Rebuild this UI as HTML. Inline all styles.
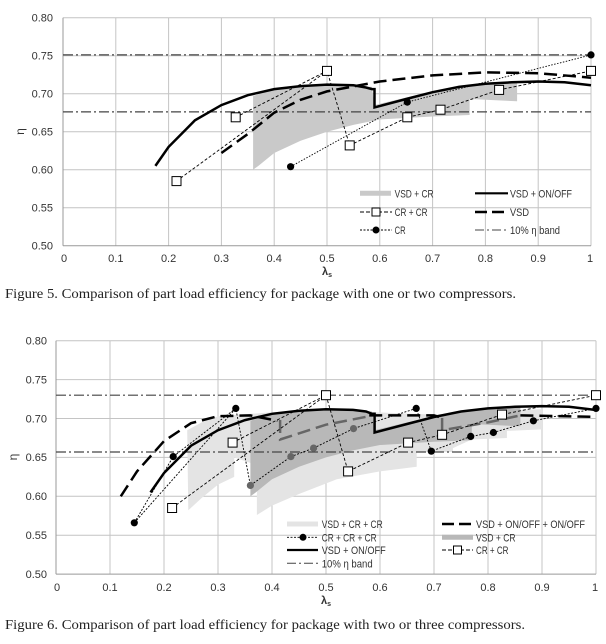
<!DOCTYPE html>
<html><head><meta charset="utf-8"><style>
html,body{margin:0;padding:0;background:#fff;}
svg{display:block;}
text{font-family:"Liberation Sans",sans-serif;fill:#333;}
.cap{font-family:"Liberation Serif",serif;fill:#222;font-size:13.5px;}
.g{stroke:#c4c4c4;stroke-width:1;}
.tk{font-size:11px;}
</style></head><body>
<svg width="606" height="644" viewBox="0 0 606 644" xmlns="http://www.w3.org/2000/svg">
<rect width="606" height="644" fill="#fff"/>
<!-- ============ CHART 1 ============ -->
<g fill="none">
<line class="g" x1="63" y1="17.7" x2="591" y2="17.7"/>
<line class="g" x1="63" y1="55.7" x2="591" y2="55.7"/>
<line class="g" x1="63" y1="93.7" x2="591" y2="93.7"/>
<line class="g" x1="63" y1="131.7" x2="591" y2="131.7"/>
<line class="g" x1="63" y1="169.7" x2="591" y2="169.7"/>
<line class="g" x1="63" y1="207.7" x2="591" y2="207.7"/>
<line class="g" x1="115.8" y1="17.7" x2="115.8" y2="245.7"/>
<line class="g" x1="168.6" y1="17.7" x2="168.6" y2="245.7"/>
<line class="g" x1="221.4" y1="17.7" x2="221.4" y2="245.7"/>
<line class="g" x1="274.2" y1="17.7" x2="274.2" y2="245.7"/>
<line class="g" x1="327" y1="17.7" x2="327" y2="245.7"/>
<line class="g" x1="379.8" y1="17.7" x2="379.8" y2="245.7"/>
<line class="g" x1="432.6" y1="17.7" x2="432.6" y2="245.7"/>
<line class="g" x1="485.4" y1="17.7" x2="485.4" y2="245.7"/>
<line class="g" x1="538.2" y1="17.7" x2="538.2" y2="245.7"/>
<line class="g" x1="591" y1="17.7" x2="591" y2="245.7"/>
<line x1="63" y1="17.7" x2="63" y2="245.7" stroke="#999"/>
<line x1="63" y1="245.7" x2="591" y2="245.7" stroke="#999"/>
</g>
<polygon fill="#c9c9c9" points="253.1,96 274.2,89.1 327,84.6 371.9,86.9 374.5,105.1 406.2,97.5 432.6,91.4 469.6,85.3 517.1,82.3 517.1,101.3 469.6,99 469.6,115 432.6,116.5 379.8,119.5 353.4,124.9 327,131.7 300.6,140.8 274.2,153 258.4,165.9 253.1,169.7"/>
<g fill="none" stroke="#444" stroke-width="1.2" stroke-dasharray="10,3,2,3">
<line x1="63" y1="54.9" x2="591" y2="54.9"/>
<line x1="63" y1="111.9" x2="591" y2="111.9"/>
</g>
<polyline fill="none" stroke="#000" stroke-width="2.5" points="155.4,165.9 168.6,146.9 195,120.3 221.4,105.1 247.8,95.2 274.2,89.1 300.6,86.1 327,84.6 353.4,85.3 366,87.5 371.9,89.1 374.5,89.1 374.5,107.4 406.2,99 432.6,92.2 459,86.9 485.4,83.8 511.8,82.3 538.2,81.5 564.6,82.3 591,85.3"/>
<polyline fill="none" stroke="#000" stroke-width="2.5" stroke-dasharray="13,6" points="221.4,153 247.8,134 274.2,112.7 300.6,99.8 327,91.4 379.8,81.5 432.6,75.4 485.4,72.4 538.2,73.2 591,77.7"/>
<g fill="none" stroke="#000" stroke-width="0.9" stroke-dasharray="3,2">
<line x1="176.5" y1="181.1" x2="327" y2="70.9"/>
<polyline points="235.7,117.3 327,70.9 349.7,145.4 407.3,117.3 440.5,109.7 499.1,89.9 591,70.9"/>
</g>
<polyline fill="none" stroke="#000" stroke-width="0.9" stroke-dasharray="1.5,1.5" points="290.6,166.7 407.3,102.1 591,54.9"/>
<g fill="#fff" stroke="#000" stroke-width="1">
<rect x="172" y="176.6" width="9" height="9"/><rect x="231.2" y="112.8" width="9" height="9"/><rect x="322.5" y="66.4" width="9" height="9"/><rect x="345.2" y="140.9" width="9" height="9"/><rect x="402.8" y="112.8" width="9" height="9"/><rect x="436" y="105.2" width="9" height="9"/><rect x="494.6" y="85.4" width="9" height="9"/><rect x="586.5" y="66.4" width="9" height="9"/>
</g>
<g fill="#000"><circle cx="290.6" cy="166.7" r="3.6"/><circle cx="407.3" cy="102.1" r="3.6"/><circle cx="591" cy="54.9" r="3.6"/></g>
<!-- legend 1 -->
<line x1="360" y1="193.3" x2="391" y2="193.3" stroke="#c9c9c9" stroke-width="5"/>
<text x="394.6" y="197.5" font-size="11" textLength="39" lengthAdjust="spacingAndGlyphs">VSD + CR</text>
<line x1="475" y1="193.3" x2="508" y2="193.3" stroke="#000" stroke-width="2.2"/>
<text x="510" y="197.5" font-size="11" textLength="62" lengthAdjust="spacingAndGlyphs">VSD + ON/OFF</text>
<line x1="360" y1="212" x2="392" y2="212" stroke="#000" stroke-width="0.9" stroke-dasharray="4,2"/>
<rect x="372" y="208" width="8" height="8" fill="#fff" stroke="#000"/>
<text x="394.6" y="216" font-size="11" textLength="33" lengthAdjust="spacingAndGlyphs">CR + CR</text>
<line x1="475" y1="212" x2="508" y2="212" stroke="#000" stroke-width="2.5" stroke-dasharray="12,5"/>
<text x="510" y="216" font-size="11" textLength="19" lengthAdjust="spacingAndGlyphs">VSD</text>
<line x1="360" y1="230" x2="392" y2="230" stroke="#000" stroke-width="0.9" stroke-dasharray="2,1.5"/>
<circle cx="376" cy="230" r="3.5"/>
<text x="394.6" y="234" font-size="11" textLength="11" lengthAdjust="spacingAndGlyphs">CR</text>
<line x1="475" y1="230" x2="508" y2="230" stroke="#444" stroke-width="1" stroke-dasharray="9,3,2,3"/>
<text x="510" y="234" font-size="11" textLength="50" lengthAdjust="spacingAndGlyphs">10% η band</text>
<!-- ticks 1 -->
<g class="tk" text-anchor="end">
<text x="53" y="21.5">0.80</text><text x="53" y="59.5">0.75</text><text x="53" y="97.5">0.70</text><text x="53" y="135.5">0.65</text><text x="53" y="173.5">0.60</text><text x="53" y="211.5">0.55</text><text x="53" y="249.5">0.50</text>
</g>
<g class="tk" text-anchor="middle">
<text x="64" y="262">0</text><text x="115.8" y="262">0.1</text><text x="168.6" y="262">0.2</text><text x="221.4" y="262">0.3</text><text x="274.2" y="262">0.4</text><text x="327" y="262">0.5</text><text x="379.8" y="262">0.6</text><text x="432.6" y="262">0.7</text><text x="485.4" y="262">0.8</text><text x="538.2" y="262">0.9</text><text x="590" y="262">1</text>
</g>
<text x="327" y="275" font-size="11" font-weight="bold" text-anchor="middle">λ<tspan font-size="7" dy="2">s</tspan></text>
<text x="24" y="131.5" font-size="12" text-anchor="middle" transform="rotate(-90 24 131.5)">η</text>
<text class="cap" x="5" y="298" textLength="511" lengthAdjust="spacingAndGlyphs">Figure 5. Comparison of part load efficiency for package with one or two compressors.</text>

<!-- ============ CHART 2 ============ -->
<g fill="none">
<line class="g" x1="56" y1="340.7" x2="596" y2="340.7"/>
<line class="g" x1="56" y1="379.6" x2="596" y2="379.6"/>
<line class="g" x1="56" y1="418.5" x2="596" y2="418.5"/>
<line class="g" x1="56" y1="457.4" x2="596" y2="457.4"/>
<line class="g" x1="56" y1="496.3" x2="596" y2="496.3"/>
<line class="g" x1="56" y1="535.2" x2="596" y2="535.2"/>
<line class="g" x1="110" y1="340.7" x2="110" y2="574.1"/>
<line class="g" x1="164" y1="340.7" x2="164" y2="574.1"/>
<line class="g" x1="218" y1="340.7" x2="218" y2="574.1"/>
<line class="g" x1="272" y1="340.7" x2="272" y2="574.1"/>
<line class="g" x1="326" y1="340.7" x2="326" y2="574.1"/>
<line class="g" x1="380" y1="340.7" x2="380" y2="574.1"/>
<line class="g" x1="434" y1="340.7" x2="434" y2="574.1"/>
<line class="g" x1="488" y1="340.7" x2="488" y2="574.1"/>
<line class="g" x1="542" y1="340.7" x2="542" y2="574.1"/>
<line class="g" x1="596" y1="340.7" x2="596" y2="574.1"/>
<line x1="56" y1="340.7" x2="56" y2="574.1" stroke="#999"/>
<line x1="56" y1="574.1" x2="596" y2="574.1" stroke="#999"/>
</g>
<polygon fill="#e4e4e4" points="187.2,430.2 201.8,422.4 218,416.2 272,412.3 326,409.2 374.6,412.3 434,414.6 488,410.7 542,409.2 542,429.4 506.9,430.9 506.9,438 471.8,439.5 452.9,448.1 452.9,452 416.7,452 416.7,466.7 380,471.4 336.8,479.2 299,494 272,505.6 256.9,515 256.9,465.2 234.2,457.4 234.2,476.9 218,484.6 201.8,497.9 188.3,510.3"/>
<polygon fill="#b8b8b8" points="250.4,420.8 272,413.8 326,409.2 371.9,411.5 374.6,430.2 407,422.4 434,416.2 471.8,409.9 520.4,406.8 520.4,426.3 471.8,424 471.8,440.3 434,441.8 380,445 353,450.4 326,457.4 299,466.7 272,479.2 255.8,492.4 250.4,496.3"/>
<g fill="none" stroke="#444" stroke-width="1.2" stroke-dasharray="10,3,2,3">
<line x1="56" y1="395.2" x2="596" y2="395.2"/>
<line x1="56" y1="452" x2="596" y2="452"/>
</g>
<g fill="none" stroke-width="2.5" stroke-dasharray="13,6">
<polyline stroke="#000" points="120.8,496.3 137,471.4 164,441.1 191,423.2 218,416.2 250.4,415.4 277.4,420.8"/>
<polyline stroke="#666" points="280.1,420 280.1,439.5 326,424.7 369.2,416.2"/>
<polyline stroke="#000" points="369.2,415.4 434,415.4 442.1,418"/>
<polyline stroke="#666" points="442.1,418 442.1,430.2 488,422.4 520.4,415.4"/>
<polyline stroke="#000" points="520.4,415.4 596,416.9"/>
</g>
<polyline fill="none" stroke="#000" stroke-width="2.5" points="150.5,492.4 164,473 191,445.7 218,430.2 245,420.1 272,413.8 299,410.7 326,409.2 353,409.9 366,411.5 371.9,413.8 374.6,413.8 374.6,432.5 407,424 434,417 461,411.5 488,408.4 515,406.8 542,406.1 569,406.8 596,410"/>
<g fill="none" stroke="#000" stroke-width="0.9" stroke-dasharray="2,1.5">
<line x1="134.3" y1="522.8" x2="235.8" y2="408.4"/>
<polyline points="134.3,522.8 173.2,456.6 235.8,408.4 250.4,485.4 290.9,456.6 313.6,448.1 353.5,428.6 416.2,408.4 431.3,451.2 470.7,436.4 493.4,432.5 533.4,420.8 596,408.4"/>
</g>
<g fill="none" stroke="#000" stroke-width="0.9" stroke-dasharray="3,2">
<line x1="172.1" y1="508" x2="326" y2="395.2"/>
<polyline points="232.6,442.6 326,395.2 348.1,471.4 408.1,442.6 442.1,434.8 502,414.6 596,395.2"/>
</g>
<g fill="#000"><circle cx="134.3" cy="522.8" r="3.6"/><circle cx="173.2" cy="456.6" r="3.6"/><circle cx="235.8" cy="408.4" r="3.6"/><circle cx="416.2" cy="408.4" r="3.6"/><circle cx="431.3" cy="451.2" r="3.6"/><circle cx="470.7" cy="436.4" r="3.6"/><circle cx="493.4" cy="432.5" r="3.6"/><circle cx="533.4" cy="420.8" r="3.6"/><circle cx="596" cy="408.4" r="3.6"/></g>
<g fill="#666"><circle cx="250.4" cy="485.4" r="3.6"/><circle cx="290.9" cy="456.6" r="3.6"/><circle cx="313.6" cy="448.1" r="3.6"/><circle cx="353.5" cy="428.6" r="3.6"/></g>
<g fill="#fff" stroke="#000" stroke-width="1">
<rect x="167.6" y="503.5" width="9" height="9"/><rect x="228.1" y="438.1" width="9" height="9"/><rect x="321.5" y="390.7" width="9" height="9"/><rect x="343.6" y="466.9" width="9" height="9"/><rect x="403.6" y="438.1" width="9" height="9"/><rect x="437.6" y="430.3" width="9" height="9"/><rect x="497.5" y="410.1" width="9" height="9"/><rect x="591.5" y="390.7" width="9" height="9"/>
</g>
<!-- legend 2 -->
<line x1="287" y1="524" x2="318" y2="524" stroke="#e4e4e4" stroke-width="5"/>
<text x="321.7" y="528" font-size="11" textLength="61" lengthAdjust="spacingAndGlyphs">VSD + CR + CR</text>
<line x1="442" y1="524" x2="473" y2="524" stroke="#000" stroke-width="2.5" stroke-dasharray="12,5"/>
<text x="476" y="528" font-size="11" textLength="109" lengthAdjust="spacingAndGlyphs">VSD + ON/OFF + ON/OFF</text>
<line x1="287" y1="537.3" x2="318" y2="537.3" stroke="#000" stroke-width="0.9" stroke-dasharray="2,1.5"/>
<circle cx="303" cy="537.3" r="3.5"/>
<text x="321.7" y="541.3" font-size="11" textLength="55" lengthAdjust="spacingAndGlyphs">CR + CR + CR</text>
<line x1="442" y1="537.3" x2="473" y2="537.3" stroke="#b8b8b8" stroke-width="5"/>
<text x="476" y="541.3" font-size="11" textLength="39.5" lengthAdjust="spacingAndGlyphs">VSD + CR</text>
<line x1="287" y1="550" x2="318" y2="550" stroke="#000" stroke-width="2.2"/>
<text x="321.7" y="554" font-size="11" textLength="64" lengthAdjust="spacingAndGlyphs">VSD + ON/OFF</text>
<line x1="442" y1="550" x2="473" y2="550" stroke="#000" stroke-width="0.9" stroke-dasharray="4,2"/>
<rect x="453.5" y="546" width="8" height="8" fill="#fff" stroke="#000"/>
<text x="476" y="554" font-size="11" textLength="32.5" lengthAdjust="spacingAndGlyphs">CR + CR</text>
<line x1="287" y1="563.3" x2="318" y2="563.3" stroke="#444" stroke-width="1" stroke-dasharray="9,3,2,3"/>
<text x="321.7" y="567.3" font-size="11" textLength="51" lengthAdjust="spacingAndGlyphs">10% η band</text>
<!-- ticks 2 -->
<g class="tk" text-anchor="end">
<text x="47" y="344.5">0.80</text><text x="47" y="383.4">0.75</text><text x="47" y="422.3">0.70</text><text x="47" y="461.2">0.65</text><text x="47" y="500.1">0.60</text><text x="47" y="539">0.55</text><text x="47" y="577.9">0.50</text>
</g>
<g class="tk" text-anchor="middle">
<text x="57" y="591">0</text><text x="110" y="591">0.1</text><text x="164" y="591">0.2</text><text x="218" y="591">0.3</text><text x="272" y="591">0.4</text><text x="326" y="591">0.5</text><text x="380" y="591">0.6</text><text x="434" y="591">0.7</text><text x="488" y="591">0.8</text><text x="542" y="591">0.9</text><text x="595" y="591">1</text>
</g>
<text x="326" y="604" font-size="11" font-weight="bold" text-anchor="middle">λ<tspan font-size="7" dy="2">s</tspan></text>
<text x="17" y="457" font-size="12" text-anchor="middle" transform="rotate(-90 17 457)">η</text>
<text class="cap" x="5" y="629" textLength="520" lengthAdjust="spacingAndGlyphs">Figure 6. Comparison of part load efficiency for package with two or three compressors.</text>
</svg>
</body></html>
